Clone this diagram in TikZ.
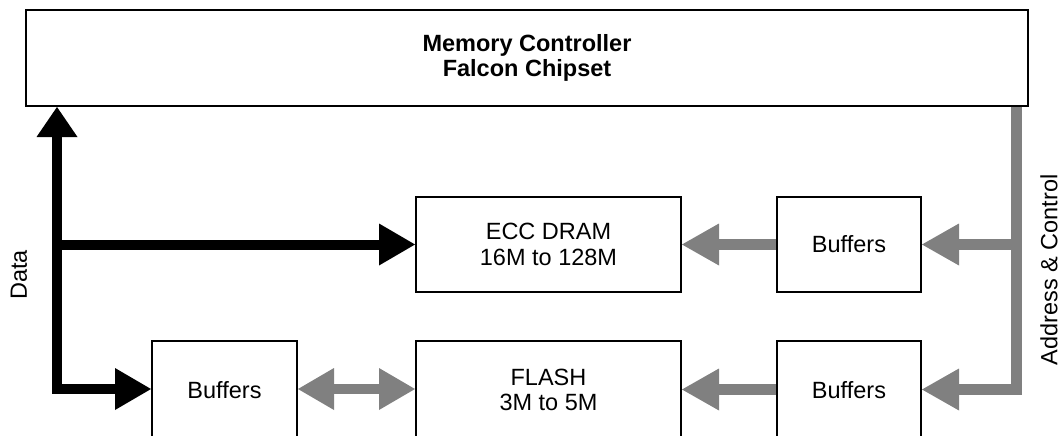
\documentclass[tikz,border=0pt]{standalone}
\usepackage{fontspec}
\setmainfont{Liberation Sans}
\usetikzlibrary{arrows.meta}
\definecolor{busgray}{RGB}{128,128,128}
\begin{document}
\begin{tikzpicture}[x=1pt,y=-1pt,
  box/.style={draw=black, line width=2pt, fill=white, inner sep=0pt,
    align=center, font=\fontsize{23.5}{25.5}\selectfont},
  databus/.style={draw=black, line width=10pt, line join=miter},
  addrbus/.style={draw=busgray, line width=10.5pt, line join=miter},
  dtip/.tip={Triangle[length=36pt,width=42pt,line width=0pt]},
  uptip/.tip={Triangle[length=30pt,width=41pt,line width=0pt]},
  gtip/.tip={Triangle[length=37pt,width=42pt,line width=0pt]},
  lbl/.style={font=\fontsize{23.5}{25.5}\selectfont, inner sep=0pt, rotate=90}
]
\path[use as bounding box, clip] (0,0) rectangle (1061,436);

% boxes
\node[box, minimum width=1002pt, minimum height=96pt,
      font=\fontsize{23.5}{25.5}\selectfont\bfseries] (mc) at (527,58)
      {Memory Controller\\Falcon Chipset};
\node[box, minimum width=265pt, minimum height=95pt] (ecc) at (548.5,244.5)
      {ECC DRAM\\16M to 128M};
\node[box, minimum width=265pt, minimum height=98pt] (flash) at (548.5,390)
      {FLASH\\3M to 5M};
\node[box, minimum width=144pt, minimum height=95pt] (bufA) at (849,244.5) {Buffers};
\node[box, minimum width=144pt, minimum height=98pt] (bufB) at (849,390) {Buffers};
\node[box, minimum width=145pt, minimum height=98pt] (bufL) at (224.5,390) {Buffers};

% bus coordinates
\coordinate (dx) at (57,0);
\coordinate (gx) at (1016.5,0);
\coordinate (dlow) at (57,389);
\coordinate (glow) at (1016.5,389.5);

% data bus (black)
\draw[databus, {uptip}-{dtip}] (mc.south -| dx) -- (dlow) -- (dlow -| bufL.west);
\draw[databus, -{dtip}] (dx |- ecc.west) -- (ecc.west);

% address & control bus (gray)
\draw[addrbus, -{gtip}] (mc.south -| gx) -- (glow) -- (glow -| bufB.east);
\draw[addrbus, -{gtip}] (gx |- bufA.east) -- (bufA.east);
\draw[addrbus, -{gtip}] (bufA.west) -- (ecc.east);
\draw[addrbus, -{gtip}] (bufB.west |- glow) -- (flash.east |- glow);
\draw[addrbus, {dtip}-{dtip}] (bufL.east |- dlow) -- (flash.west |- dlow);

% labels
\node[lbl] (data) at (19,275) {Data};
\node[lbl] (addr) at (1049,270) {Address \& Control};
\end{tikzpicture}
\end{document}
